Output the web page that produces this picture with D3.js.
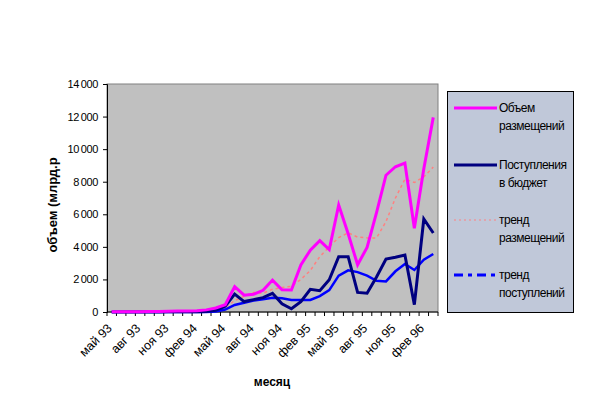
<!DOCTYPE html>
<html>
<head>
<meta charset="utf-8">
<script src="https://cdn.jsdelivr.net/npm/d3@7"></script>
<style>
  html, body { margin: 0; padding: 0; background: #fff; }
  svg { font-family: "Liberation Sans", Arial, sans-serif; }
</style>
</head>
<body>
<div id="chart"></div>
<script>
const months = [
  'май 93', 'июн 93', 'июл 93', 'авг 93', 'сен 93', 'окт 93', 'ноя 93', 'дек 93',
  'янв 94', 'фев 94', 'мар 94', 'апр 94', 'май 94', 'июн 94', 'июл 94', 'авг 94',
  'сен 94', 'окт 94', 'ноя 94', 'дек 94', 'янв 95', 'фев 95', 'мар 95', 'апр 95',
  'май 95', 'июн 95', 'июл 95', 'авг 95', 'сен 95', 'окт 95', 'ноя 95', 'дек 95',
  'янв 96', 'фев 96', 'мар 96'
];

// Объем размещений
const placement = [
  10, 10, 15, 20, 25, 30, 50, 60, 60, 80, 130, 250, 450, 1550, 1030, 1090,
  1330, 1960, 1370, 1350, 2890, 3800, 4380, 3830, 6570, 4800, 2900, 3970,
  6100, 8400, 8920, 9140, 5140, 8800, 11950
];

// Поступления в бюджет
const revenue = [
  0, 0, 0, 0, 0, 0, 10, 10, 10, 20, 30, 100, 350, 1100, 640, 760,
  880, 1150, 500, 200, 630, 1390, 1310, 1980, 3400, 3400, 1200, 1150,
  2150, 3250, 3360, 3500, 450, 5710, 4850
];

// тренд размещений
const placementTrend = [
  null, null, 10, 15, 20, 25, 35, 45, 55, 65, 90, 150, 280, 700, 960, 1200,
  1150, 1400, 1500, 1580, 2000, 2550, 3400, 4000, 4570, 4860, 4600, 4550,
  4550, 5550, 7000, 8150, 7950, 8300, 8900
];

// тренд поступлений
const revenueTrend = [
  0, 0, 0, 0, 0, 0, 0, 0, 0, 0, 5, 30, 150, 430, 570, 700,
  780, 870, 840, 740, 740, 740, 980, 1340, 2230, 2560, 2450, 2230,
  1920, 1880, 2500, 2950, 2580, 3210, 3560
];

const yTicks = [0, 2000, 4000, 6000, 8000, 10000, 12000, 14000];
const xTickLabels = ['май 93', 'авг 93', 'ноя 93', 'фев 94', 'май 94', 'авг 94',
  'ноя 94', 'фев 95', 'май 95', 'авг 95', 'ноя 95', 'фев 96'];

const series = [
  { name: ['Объем', 'размещений'], values: placement, color: '#ff00ff', width: 3, dash: null, legendDash: null },
  { name: ['Поступления', 'в бюджет'], values: revenue, color: '#000080', width: 3, dash: null, legendDash: null },
  { name: ['тренд', 'размещений'], values: placementTrend, color: '#ff8080', width: 1.5, dash: '3,3', legendDash: '2,3' },
  { name: ['тренд', 'поступлений'], values: revenueTrend, color: '#0000ff', width: 2.5, dash: null, legendDash: '9,5,4,5' }
];

const width = 616, height = 398;
const plot = { left: 107, right: 438, top: 84, bottom: 312 };

const svg = d3.select('#chart').append('svg')
  .attr('width', width)
  .attr('height', height);

const x = d3.scaleBand()
  .domain(months)
  .range([plot.left, plot.right])
  .padding(0);

const y = d3.scaleLinear()
  .domain([0, 14000])
  .range([plot.bottom, plot.top]);

// plot area
svg.append('rect')
  .attr('x', plot.left)
  .attr('y', plot.top)
  .attr('width', plot.right - plot.left)
  .attr('height', plot.bottom - plot.top)
  .attr('fill', '#c0c0c0')
  .attr('stroke', '#808080')
  .attr('stroke-width', 1);

// y axis
const yAxis = svg.append('g')
  .attr('transform', `translate(${plot.left},0)`)
  .call(d3.axisLeft(y)
    .tickValues(yTicks)
    .tickSize(4)
    .tickPadding(5)
    .tickFormat(d => d >= 1000 ? d3.format(',')(d).replace(',', '\u2009') : d));
yAxis.select('.domain').attr('stroke', '#000');
yAxis.selectAll('text')
  .attr('font-size', '11px')
  .attr('letter-spacing', '-0.4px')
  .attr('fill', '#000')
  .attr('font-family', '"Liberation Sans", Arial, sans-serif');

// x axis line + ticks at category boundaries
const xAxis = svg.append('g');
xAxis.append('line')
  .attr('x1', plot.left).attr('x2', plot.right)
  .attr('y1', plot.bottom).attr('y2', plot.bottom)
  .attr('stroke', '#000');
xAxis.selectAll('.xt')
  .data(months.map(m => x(m)).concat([x(months[months.length - 1]) + x.bandwidth()]))
  .enter().append('line')
  .attr('x1', d => d).attr('x2', d => d)
  .attr('y1', plot.bottom).attr('y2', plot.bottom + 4)
  .attr('stroke', '#000');

xAxis.selectAll('.xl')
  .data(xTickLabels)
  .enter().append('text')
  .attr('transform', d => `translate(${x(d) + x.bandwidth() / 2 + 1},${plot.bottom + 17}) rotate(-45)`)
  .attr('text-anchor', 'end')
  .attr('font-size', '12.5px')
  .attr('fill', '#000')
  .text(d => d);

// lines
const line = vals => d3.line()
  .defined(d => d != null)
  .x((d, i) => x(months[i]) + x.bandwidth() / 2)
  .y(d => y(d))(vals);

[series[2], series[3], series[1], series[0]].forEach(s => {
  svg.append('path')
    .attr('d', line(s.values))
    .attr('fill', 'none')
    .attr('stroke', s.color)
    .attr('stroke-width', s.width)
    .attr('stroke-linejoin', 'miter')
    .attr('stroke-dasharray', s.dash);
});

// axis titles
svg.append('text')
  .attr('x', 272)
  .attr('y', 386)
  .attr('text-anchor', 'middle')
  .attr('font-size', '12px')
  .attr('font-weight', 'bold')
  .text('месяц');

svg.append('text')
  .attr('transform', 'translate(57,205) rotate(-90)')
  .attr('text-anchor', 'middle')
  .attr('font-size', '13px')
  .attr('font-weight', 'bold')
  .text('объем (млрд.р');

// legend
const legend = svg.append('g');
legend.append('rect')
  .attr('x', 447.5).attr('y', 91.5)
  .attr('width', 126).attr('height', 221)
  .attr('fill', '#c0c8d9')
  .attr('stroke', '#000');

const legendY = [108, 165, 220, 275];
series.forEach((s, i) => {
  const g = legend.append('g').attr('transform', `translate(0,${legendY[i]})`);
  g.append('line')
    .attr('x1', 454).attr('x2', 497)
    .attr('stroke', s.color)
    .attr('stroke-width', i === 2 ? 1 : 3)
    .attr('stroke-dasharray', s.legendDash);
  s.name.forEach((t, j) => {
    g.append('text')
      .attr('x', 499)
      .attr('y', 4 + j * 18)
      .attr('font-size', '12px')
      .attr('letter-spacing', '-0.5px')
      .attr('fill', '#000')
      .text(t);
  });
});
</script>
</body>
</html>
